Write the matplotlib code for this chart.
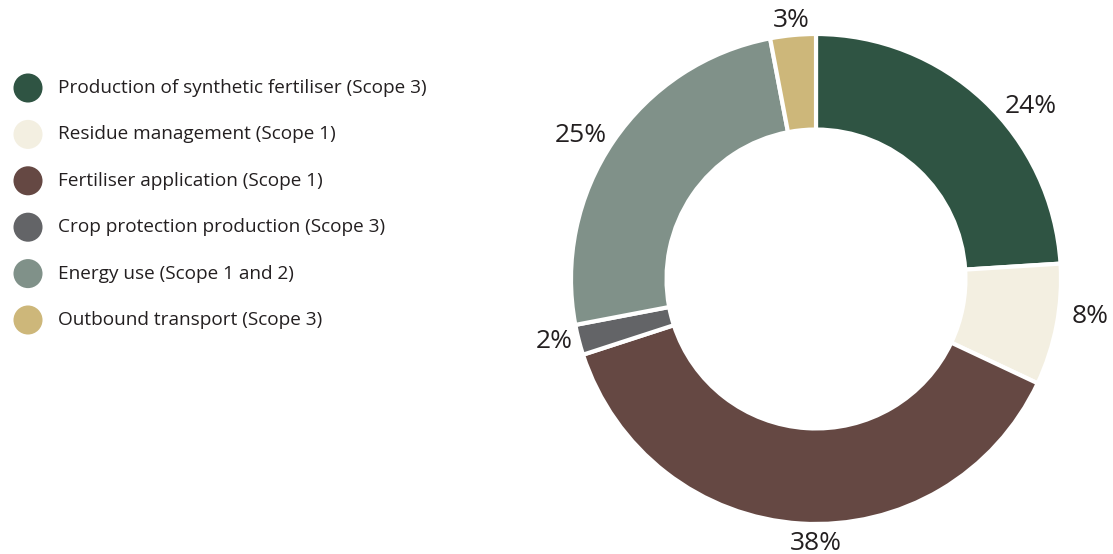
import numpy as np
import matplotlib
matplotlib.use("Agg")
import matplotlib.pyplot as plt

# data
categories = [
    "Production of synthetic fertiliser (Scope 3)",
    "Residue management (Scope 1)",
    "Fertiliser application (Scope 1)",
    "Crop protection production (Scope 3)",
    "Energy use (Scope 1 and 2)",
    "Outbound transport (Scope 3)",
]
shares = [24, 8, 38, 2, 25, 3]
colours = ["#2f5443", "#f3efe1", "#654843", "#636467", "#809189", "#cdb77a"]

# label nudges (degrees, radius in units of outer radius) to sit like the original
label_dang = [-8, 3, 3.6, -1, 2.8, 0]
label_rad = [1.125, 1.13, 1.078, 1.10, 1.125, 1.06]

plt.rcParams['font.family'] = ['Open Sans', 'DejaVu Sans']
text_col = "#231f20"

W, H = 1113, 554
fig = plt.figure(figsize=(W / 100, H / 100), dpi=100)

# donut: centre (816, 279) px, outer radius 245 px
cx, cy, r = 816, 279, 245
ax = fig.add_axes([(cx - r) / W, (H - cy - r) / H, 2 * r / W, 2 * r / H])
wedges, texts = ax.pie(
    shares, colors=colours, startangle=90, counterclock=False, radius=1,
    wedgeprops=dict(width=0.39, edgecolor="white", linewidth=3),
)
for w, v, da, rr in zip(wedges, shares, label_dang, label_rad):
    ang = np.deg2rad((w.theta1 + w.theta2) / 2 + da)
    ax.text(rr * np.cos(ang), rr * np.sin(ang), f"{v}%", fontsize=19,
            color=text_col, ha="center", va="center")
ax.set_xlim(-1, 1)
ax.set_ylim(-1, 1)
ax.set_aspect("equal")
ax.axis("off")

# legend drawn in pixel coordinates
lg = fig.add_axes([0, 0, 1, 1])
lg.set_xlim(0, W)
lg.set_ylim(H, 0)
lg.axis("off")
for i, (lab, col) in enumerate(zip(categories, colours)):
    y = 88 + i * 46.4
    lg.scatter([28], [y], s=29 ** 2 * 0.52, color=col, edgecolors="none")
    lg.text(58, y, lab, fontsize=13.7, color=text_col, va="center", ha="left")

fig.savefig("out.png", dpi=100, facecolor="white")
